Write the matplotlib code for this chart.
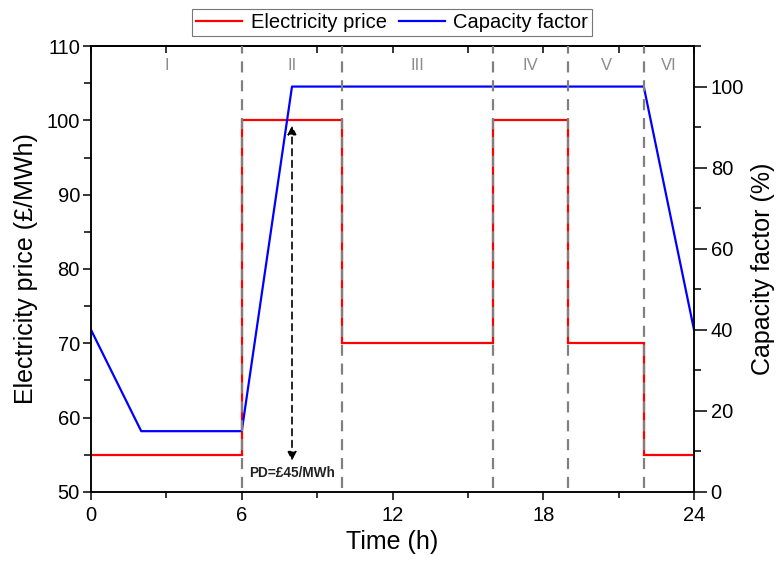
import matplotlib
matplotlib.use("Agg")
import matplotlib.pyplot as plt
from matplotlib.ticker import MultipleLocator

plt.rcParams['font.family'] = ['Liberation Sans', 'DejaVu Sans']

# ---- data ----
period_edges = [0, 6, 10, 16, 19, 22, 24]
period_labels = ["I", "II", "III", "IV", "V", "VI"]
price = [55, 100, 70, 100, 70, 55]          # £/MWh per period
cap_hours = [0, 2, 6, 8, 22, 24]
cap_factor = [40, 15, 15, 100, 100, 40]     # %
pd_hour = 8
pd_low, pd_high = 54.2, 99.3
pd_text = "PD=£45/MWh"

fig = plt.figure(figsize=(7.77, 5.64), dpi=100)
ax = fig.add_axes([0.1171, 0.1277, 0.8932 - 0.1171, 0.9184 - 0.1277])
ax2 = ax.twinx()

# red price step line
ln1 = ax.stairs(price, period_edges, baseline=None, color='#ff0000', lw=1.6,
                label='Electricity price', zorder=2)
# blue capacity factor
ln2, = ax2.plot(cap_hours, cap_factor, color='#0000ff', lw=1.6,
                label='Capacity factor', zorder=2)

# dashed period boundaries
for b in period_edges[1:-1]:
    ax2.axvline(b, ymin=0.01, ymax=1, color='#808080', lw=1.6,
                ls=(0, (5, 3.5)), zorder=3)

# period labels
for i, lab in enumerate(period_labels):
    xm = 0.5 * (period_edges[i] + period_edges[i + 1])
    ax.text(xm, 107.4, lab, ha='center', va='center', color='#8c8c8c',
            fontsize=12)

# price difference arrow
ax.annotate('', xy=(pd_hour, pd_high), xytext=(pd_hour, pd_low),
            arrowprops=dict(arrowstyle='<|-|>', color='black', lw=1.2,
                            ls=(0, (4, 3)), mutation_scale=13,
                            shrinkA=0, shrinkB=0), zorder=4)
ax.text(pd_hour, 52.6, pd_text, ha='center', va='center', fontsize=9.8,
        fontweight='bold', color='#222222')

# axes settings
ax.set_xlim(0, 24)
ax.set_ylim(50, 110)
ax2.set_ylim(0, 110)
ax.xaxis.set_major_locator(MultipleLocator(6))
ax.xaxis.set_minor_locator(MultipleLocator(3))
ax.yaxis.set_major_locator(MultipleLocator(10))
ax.yaxis.set_minor_locator(MultipleLocator(5))
ax2.yaxis.set_major_locator(MultipleLocator(20))
ax2.yaxis.set_minor_locator(MultipleLocator(10))

TS = 14.5
ax.tick_params(axis='x', which='both', direction='out', top=False,
               labelsize=TS, width=1.1, pad=4)
ax.tick_params(axis='x', which='major', length=6)
ax.tick_params(axis='x', which='minor', length=4)
ax.tick_params(axis='y', which='both', direction='out', labelsize=TS,
               width=1.1, pad=2)
ax.tick_params(axis='y', which='major', length=6)
ax.tick_params(axis='y', which='minor', length=5)
ax2.tick_params(axis='y', which='both', direction='out', labelsize=TS,
                width=1.1, pad=3)
ax2.tick_params(axis='y', which='major', length=9)
ax2.tick_params(axis='y', which='minor', length=5)

# top inward ticks via secondary x axis
secx = ax.secondary_xaxis('top')
secx.xaxis.set_major_locator(MultipleLocator(3))
secx.tick_params(axis='x', direction='in', length=5, width=1.1,
                 labeltop=False)

for a in (ax, ax2):
    for s in a.spines.values():
        s.set_linewidth(1.1)
secx.spines['top'].set_linewidth(1.1)

ax.set_xlabel('Time (h)', fontsize=18, labelpad=4)
ax.set_ylabel('Electricity price (£/MWh)', fontsize=18, labelpad=6)
ax2.set_ylabel('Capacity factor (%)', fontsize=18, labelpad=5)

leg = fig.legend([ln1, ln2], ['Electricity price', 'Capacity factor'],
                 loc='center', bbox_to_anchor=(0.5045, 0.960), ncol=2,
                 fontsize=14.5, frameon=True, fancybox=False,
                 handlelength=2.3, columnspacing=0.6, handletextpad=0.4,
                 borderpad=0.2, borderaxespad=0)
leg.get_frame().set_edgecolor('#555555')
leg.get_frame().set_linewidth(0.8)

fig.savefig('out.png', dpi=100)
